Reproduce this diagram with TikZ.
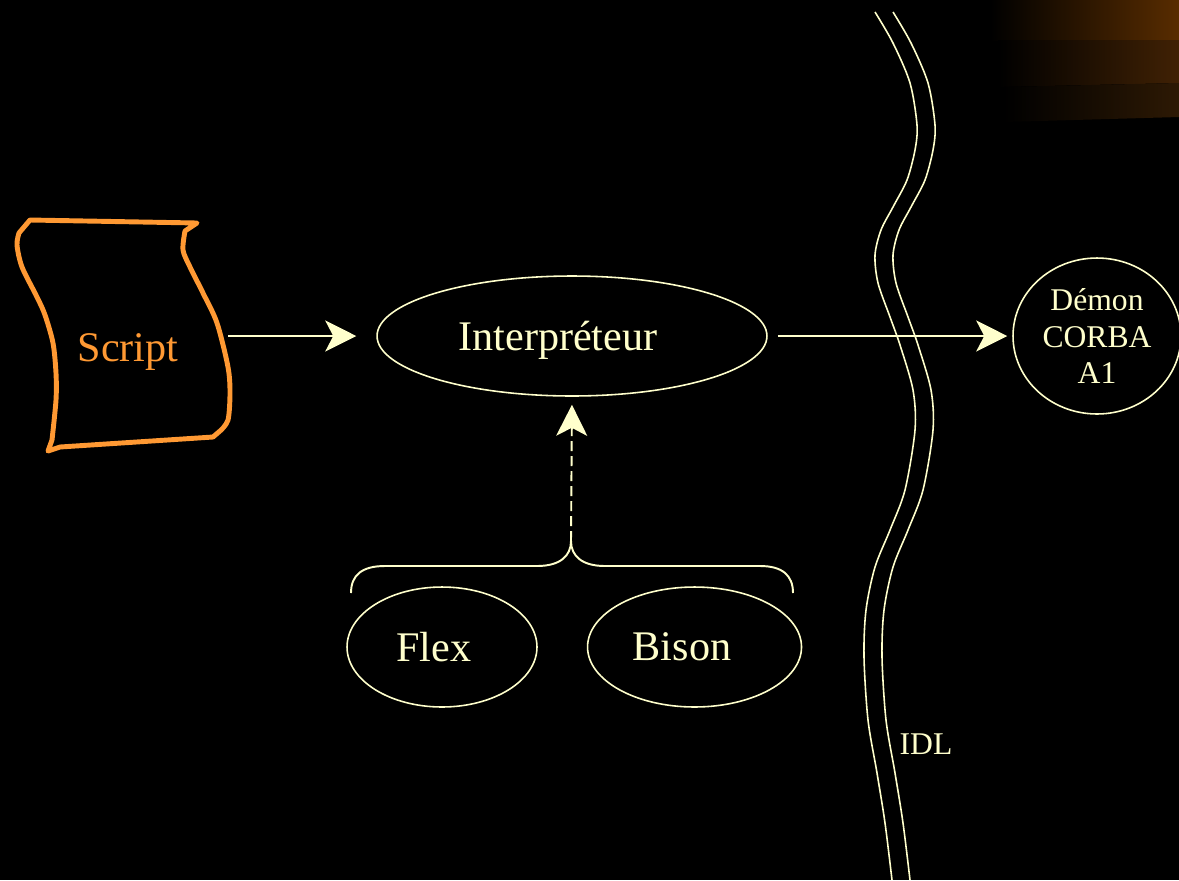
\documentclass[tikz,border=0pt]{standalone}
\usepackage{fontspec}
\setmainfont{Liberation Serif}
\usetikzlibrary{%
  arrows.meta,% Stealth tips
  shapes,% ellipse
  positioning% wg. " of "
}
\definecolor{cream}{HTML}{FFFFCC}
\definecolor{scrollorange}{HTML}{FF9933}

\begin{document}
\begin{tikzpicture}[x=0.02cm,y=-0.02cm,
    every node/.style={text=cream, font=\fontsize{24}{28}\selectfont},
    Tool/.style={ellipse, draw=cream, line width=0.9pt, minimum height=2.4cm,
      text depth=0pt},
    LeftText/.style={execute at end node={\hspace{#1}}},
    Flow/.style={draw=cream, line width=1.1pt,
      -{Stealth[length=0.62cm,width=0.62cm,inset=0.16cm]}},
    Wall/.style={draw=cream, line width=0.9pt},
    Scroll/.style={draw=scrollorange, line width=2.8pt, line join=round}]
  \fill[black] (0,0) rectangle (1179,880);
  \useasboundingbox (0,0) rectangle (1179,880);
  % corner glow
  \shade[left color=black, right color={rgb,255:red,88;green,44;blue,0}]
    (990,0) rectangle (1179,40);
  \shade[left color=black, right color={rgb,255:red,64;green,33;blue,4}]
    (998,40) -- (1179,40) -- (1179,83) -- (998,87) -- cycle;
  \shade[left color=black, right color={rgb,255:red,45;green,25;blue,4}]
    (1004,87) -- (1179,83) -- (1179,117) -- (1004,122) -- cycle;

  % the script sheet
  \draw[Scroll] (30,220) -- (197,223)
    -- plot[smooth] coordinates {(185,231) (183,250) (190,267) (203,293)
         (217,323) (228,367) (230,393) (228,420) (220,431)}
    -- (213,437) -- (60,447) -- (48,451)
    -- plot[smooth] coordinates {(52,440) (56,400) (56,373) (53,343)
         (45,315) (37,297) (22,267) (17,245) (19,233)}
    -- cycle;
  \coordinate (sheetedge) at (228,336);
  \node[text=scrollorange] (script) at (128,352) {Script};

  % IDL boundary
  \foreach \dx in {0,18}
    \draw[Wall, xshift=\dx*0.02cm] plot[smooth] coordinates {(875,12) (893,43)
      (910,83) (917,125) (915,150) (907,180) (893,207) (881,230) (875,255)
      (878,283) (890,317) (900,345) (913,390) (915,430) (905,490) (890,530)
      (875,567) (866,610) (864,657) (868,720) (877,773) (885,823) (892,880)};
  \node[font=\fontsize{18}{21}\selectfont] (idl) at (926,744) {IDL};

  \node[Tool, LeftText=0.56cm, minimum width=7.8cm] (interp) at (572,336) {Interpréteur};
  \node[Tool, minimum width=3.36cm, minimum height=3.12cm, inner sep=0pt,
    align=center, font=\fontsize{18}{20.7}\selectfont] (demon) at (1097,336)
    {Démon\\CORBA\\A1};
  \node[Tool, LeftText=0.32cm, minimum width=3.8cm] (flex) at (442,647) {Flex};
  \node[Tool, LeftText=0.5cm, minimum width=4.28cm, right=0.98cm of flex] (bison) {Bison};

  % brace over Flex and Bison
  \draw[Wall, line width=1.1pt] (351,593) .. controls (351,575) and (362,566) .. (385,566)
    -- (537,566) .. controls (560,566) and (571,556) .. (571,541)
    .. controls (571,556) and (582,566) .. (605,566)
    -- (760,566) .. controls (782,566) and (793,575) .. (793,593);
  \coordinate (bracetip) at (571,541);

  \draw[Flow, shorten >=0.4cm] (sheetedge) -- (interp.west);
  \draw[Flow, shorten <=0.2cm, shorten >=0.1cm] (interp.east) -- (demon.west);
  \draw[Flow, dash pattern=on 0.2cm off 0.1cm, shorten >=0.16cm]
    (bracetip) -- (interp.south);
\end{tikzpicture}
\end{document}
